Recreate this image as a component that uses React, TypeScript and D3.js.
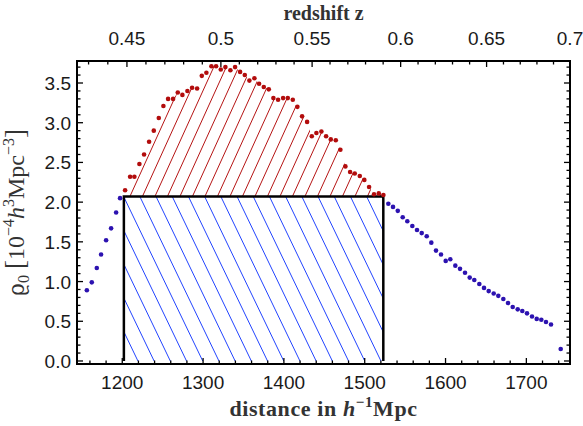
import React from "react";
import * as d3 from "d3";

// ---- data ----
const blueDist = [1156.2, 1162.3, 1168.5, 1173.8, 1180.0, 1186.2, 1192.4, 1197.3,
  1529.2, 1535.0, 1540.9, 1547.0, 1552.7, 1558.9, 1564.7, 1570.5, 1576.7, 1582.4,
  1588.2, 1594.4, 1600.2, 1605.9, 1612.1, 1617.9, 1624.1, 1629.9, 1635.6, 1641.8,
  1647.6, 1653.4, 1659.6, 1665.3, 1671.5, 1677.3, 1683.1, 1689.3, 1695.0, 1700.8,
  1707.0, 1712.8, 1718.5, 1724.3, 1730.5, 1742.5];
const blueRho = [0.89, 0.99, 1.17, 1.34, 1.52, 1.67, 1.87, 2.05,
  1.98, 1.94, 1.89, 1.81, 1.76, 1.70, 1.65, 1.61, 1.57, 1.49,
  1.39, 1.34, 1.26, 1.28, 1.20, 1.16, 1.11, 1.05, 1.02, 0.97,
  0.92, 0.88, 0.85, 0.82, 0.78, 0.73, 0.68, 0.65, 0.63, 0.60,
  0.56, 0.53, 0.52, 0.49, 0.46, 0.15];
const redDist = [1203.5, 1209.7, 1215.0, 1221.2, 1227.0, 1233.2, 1239.0, 1245.2, 1250.9,
  1256.7, 1262.9, 1268.7, 1274.4, 1280.6, 1286.4, 1292.6, 1298.4, 1304.1, 1310.3,
  1316.1, 1321.9, 1327.6, 1333.8, 1339.6, 1345.8, 1351.6, 1357.3, 1363.5, 1369.3,
  1375.1, 1381.3, 1387.0, 1392.8, 1399.0, 1404.8, 1411.0, 1416.7, 1422.5, 1428.7,
  1434.5, 1440.2, 1446.4, 1452.2, 1458.0, 1464.2, 1469.9, 1476.1, 1481.9, 1487.7,
  1493.9, 1499.5, 1505.4, 1511.5, 1517.4, 1523.1];
const redRho = [2.15, 2.32, 2.32, 2.48, 2.60, 2.76, 2.90, 3.06, 3.21,
  3.30, 3.30, 3.38, 3.35, 3.40, 3.44, 3.43, 3.59, 3.63, 3.71,
  3.71, 3.67, 3.70, 3.66, 3.70, 3.64, 3.60, 3.53, 3.56, 3.49,
  3.45, 3.42, 3.31, 3.29, 3.31, 3.31, 3.29, 3.20, 3.08, 3.01,
  2.83, 2.87, 2.89, 2.83, 2.79, 2.78, 2.66, 2.45, 2.38, 2.36,
  2.33, 2.28, 2.19, 2.10, 2.11, 2.09];

const distTicks = [1200, 1300, 1400, 1500, 1600, 1700];
const rhoTicks = [0, 0.5, 1, 1.5, 2, 2.5, 3, 3.5];
const rhoTickLabels = ["0.0", "0.5", "1.0", "1.5", "2.0", "2.5", "3.0", "3.5"];
const zTicks = [0.45, 0.5, 0.55, 0.6, 0.65, 0.7];
const zTickLabels = ["0.45", "0.5", "0.55", "0.6", "0.65", "0.7"];

const boxLevel = 2.07;
const boxFrom = 1202;
const boxTo = 1523;
const omegaM = 0.3;

// comoving distance in h^-1 Mpc (flat LCDM) for the top axis
function comoving(z: number): number {
  const n = 200;
  const h = z / n;
  const f = (t: number) => 1 / Math.sqrt(omegaM * Math.pow(1 + t, 3) + 1 - omegaM);
  let s = f(0) + f(z);
  for (let i = 1; i < n; i++) s += (i % 2 ? 4 : 2) * f(i * h);
  return 2997.92 * (h / 3) * s;
}

const W = 583, H = 426;
const L = 77, R = 570, T = 61, B = 364;

export default function App() {
  const x = d3.scaleLinear().domain([1144, 1754]).range([L, R]);
  const y = d3.scaleLinear().domain([-0.038, 3.777]).range([B, T]);

  const minorDist = d3.range(1160, 1751, 20).filter((v) => v % 100 !== 0);
  const minorRho = d3.range(0, 3.75, 0.1).filter((v) => Math.abs(v * 2 - Math.round(v * 2)) > 1e-6);
  const minorZ = d3.range(43, 71).map((v) => v / 100).filter((v) => Math.abs(v * 20 - Math.round(v * 20)) > 1e-6);

  const bx0 = x(boxFrom), bx1 = x(boxTo), byTop = y(boxLevel), byBot = y(0);

  const redPoly: [number, number][] = [[x(redDist[0]), byTop]];
  redDist.forEach((d, i) => redPoly.push([x(d), y(redRho[i])]));
  redPoly.push([x(redDist[redDist.length - 1]), byTop]);
  const polyPath = d3.line()(redPoly) + "Z";

  const redSlope = 2.2, redStep = 12.5, redStart = bx0 + 6;
  const redLines = d3.range(-10, 35).map((k) => {
    const bx = redStart + k * redStep;
    return `M${bx - 50},${byTop + 50 * redSlope}L${bx + 120},${byTop - 120 * redSlope}`;
  });
  const blueSlope = 2.08, blueStep = 16.2, blueStart = bx0 + 16;
  const blueLines = d3.range(-15, 25).map((k) => {
    const tx = blueStart + k * blueStep;
    return `M${tx - 20},${byTop - 20 * blueSlope}L${tx + 120},${byTop + 120 * blueSlope}`;
  });

  const tickMaj = 6, tickMin = 3.5;
  const sans = "'Liberation Sans', Arial, Helvetica, sans-serif";
  const serif = "'Liberation Serif', 'Times New Roman', serif";

  return (
    <svg width={W} height={H} style={{ position: "absolute", left: 0, top: 0, background: "#fff" }}>
      <defs>
        <clipPath id="redClip"><path d={polyPath} /></clipPath>
        <clipPath id="blueClip"><rect x={bx0} y={byTop} width={bx1 - bx0} height={byBot - byTop} /></clipPath>
      </defs>

      <g clipPath="url(#redClip)" stroke="#b51414" strokeWidth={1} fill="none">
        {redLines.map((d, i) => <path key={i} d={d} />)}
      </g>
      <g clipPath="url(#blueClip)" stroke="#2244ff" strokeWidth={1} fill="none">
        {blueLines.map((d, i) => <path key={i} d={d} />)}
      </g>

      <path d={`M${bx0},${byBot}L${bx0},${byTop}L${bx1},${byTop}L${bx1},${byBot}`} stroke="#000" strokeWidth={2.5} fill="none" />

      {blueDist.map((d, i) => <circle key={"b" + i} cx={x(d)} cy={y(blueRho[i])} r={2.3} fill="#2c12b0" />)}
      {redDist.map((d, i) => <circle key={"r" + i} cx={x(d)} cy={y(redRho[i])} r={2.3} fill="#b20c0c" />)}

      <rect x={L} y={T} width={R - L} height={B - T} fill="none" stroke="#000" strokeWidth={2} />

      <g stroke="#000" strokeWidth={1.3}>
        {distTicks.map((v) => <line key={"bt" + v} x1={x(v)} x2={x(v)} y1={B} y2={B - tickMaj} />)}
        {minorDist.map((v) => <line key={"bm" + v} x1={x(v)} x2={x(v)} y1={B} y2={B - tickMin} />)}
        {zTicks.map((v) => <line key={"tt" + v} x1={x(comoving(v))} x2={x(comoving(v))} y1={T} y2={T + tickMaj} />)}
        {minorZ.map((v) => <line key={"tm" + v} x1={x(comoving(v))} x2={x(comoving(v))} y1={T} y2={T + tickMin} />)}
        {rhoTicks.map((v) => <line key={"lt" + v} x1={L} x2={L + tickMaj} y1={y(v)} y2={y(v)} />)}
        {minorRho.map((v) => <line key={"lm" + v} x1={L} x2={L + tickMin} y1={y(v)} y2={y(v)} />)}
        {rhoTicks.map((v) => <line key={"rt" + v} x1={R} x2={R - tickMaj} y1={y(v)} y2={y(v)} />)}
        {minorRho.map((v) => <line key={"rm" + v} x1={R} x2={R - tickMin} y1={y(v)} y2={y(v)} />)}
      </g>

      <g fontFamily={sans} fontSize={19} fill="#1a1a1a">
        {distTicks.map((v) => <text key={"bl" + v} x={x(v)} y={389} textAnchor="middle">{v}</text>)}
        {zTicks.map((v, i) => <text key={"tl" + v} x={x(comoving(v))} y={45} textAnchor="middle">{zTickLabels[i]}</text>)}
        {rhoTicks.map((v, i) => <text key={"ll" + v} x={71} y={y(v) + 7} textAnchor="end">{rhoTickLabels[i]}</text>)}
      </g>

      <text x={(L + R) / 2} y={20} textAnchor="middle" fontFamily={serif} fontWeight="bold" fontSize={20} fill="#333">redshift z</text>
      <text x={(L + R) / 2} y={416} textAnchor="middle" fontFamily={serif} fontWeight="bold" fontSize={22} letterSpacing={0.6} fill="#333">
        distance in <tspan fontStyle="italic">h</tspan><tspan dy={-9} fontSize={15}>−1</tspan><tspan dy={9}>Mpc</tspan>
      </text>
      <text transform={`translate(24,${(T + B) / 2}) rotate(-90)`} textAnchor="middle" fontFamily={serif} fontSize={24} fill="#333">
        <tspan fontFamily="'DejaVu Serif', serif" fontSize={22}>ϱ</tspan><tspan dy={5} fontSize={16}>0</tspan><tspan dy={-5}>{"  "}</tspan><tspan fontSize={27}>[</tspan>10<tspan dy={-10} fontSize={16}>−4</tspan><tspan dy={10} fontStyle="italic">h</tspan><tspan dy={-10} fontSize={16}>3</tspan><tspan dy={10}>Mpc</tspan><tspan dy={-10} fontSize={16}>−3</tspan><tspan dy={10} fontSize={27}>]</tspan>
      </text>
    </svg>
  );
}
